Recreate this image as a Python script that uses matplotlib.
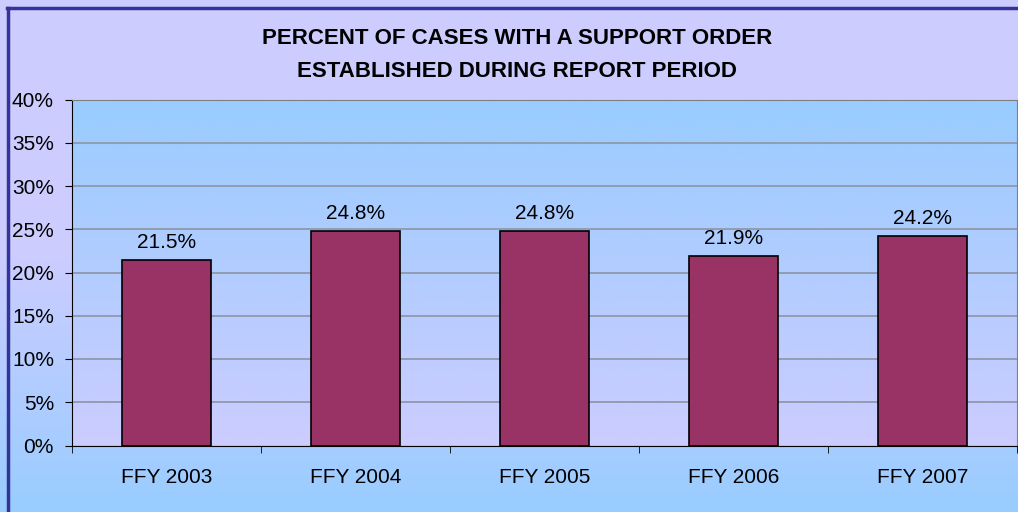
import matplotlib
matplotlib.use('Agg')
import matplotlib.pyplot as plt
from matplotlib import colors
from matplotlib.lines import Line2D
import numpy as np

plt.rcParams['font.family'] = ['Liberation Sans', 'DejaVu Sans']

years = ['FFY 2003', 'FFY 2004', 'FFY 2005', 'FFY 2006', 'FFY 2007']
percent = [21.5, 24.8, 24.8, 21.9, 24.2]
labels = ['21.5%', '24.8%', '24.8%', '21.9%', '24.2%']
yticks = [0, 5, 10, 15, 20, 25, 30, 35, 40]

LAVENDER = '#CCCCFF'
SKY = '#99CCFF'
BAR = '#993366'

fig = plt.figure(figsize=(10.18, 5.12), dpi=100)

# figure background: lavender at top fading to sky blue at bottom
bg = fig.add_axes([0, 0, 1, 1], zorder=-10)
grad = colors.LinearSegmentedColormap.from_list('bg', [LAVENDER, LAVENDER, SKY])
bg.imshow(np.linspace(0, 1, 256).reshape(-1, 1), cmap=grad, aspect='auto',
          extent=[0, 1, 0, 1])
bg.set_axis_off()
bg.add_line(Line2D([0.007, 1], [0.984, 0.984], color='#333399', lw=2.5,
                   transform=bg.transAxes))
bg.add_line(Line2D([0.008, 0.008], [0, 0.984], color='#333399', lw=2.5,
                   transform=bg.transAxes))

ax = fig.add_axes([72/1018, 1 - 445.5/512, 945/1018, 346/512])
ax.set_facecolor('none')
x = np.arange(len(years))
ax.set_xlim(-0.5, len(years) - 0.5)
ax.set_ylim(0, 40)

# plot area: sky blue at top fading to lavender at bottom
grad2 = colors.LinearSegmentedColormap.from_list('pa', [LAVENDER, SKY])
ax.imshow(np.linspace(0, 1, 256).reshape(-1, 1), cmap=grad2, aspect='auto',
          origin='lower', extent=[-0.5, len(years) - 0.5, 0, 40], zorder=0)

for t in yticks[1:]:
    ax.axhline(t, color='#8d94a3', lw=1.2, zorder=1)

ax.bar(x, percent, width=0.466, color=BAR, edgecolor='black', lw=1.2, zorder=2)
for xi, v, lab in zip(x, percent, labels):
    ax.text(xi, v + 0.9, lab, ha='center', va='bottom', fontsize=15)

ax.set_yticks(yticks)
ax.set_yticklabels(['%d%%' % t for t in yticks], fontsize=15)
ax.set_xticks(x)
ax.set_xticklabels(years, fontsize=15)
ax.tick_params(axis='x', which='major', length=0, pad=16)
ax.set_xticks(np.arange(len(years) + 1) - 0.5, minor=True)
ax.tick_params(axis='x', which='minor', length=5, direction='out')
ax.tick_params(axis='y', length=5, direction='out', pad=8)

for s in ['top', 'right']:
    ax.spines[s].set_color('#808080')
ax.spines['left'].set_color('black')
ax.spines['bottom'].set_color('black')

fig.text(0.508, 1 - 55/512,
         'PERCENT OF CASES WITH A SUPPORT ORDER\nESTABLISHED DURING REPORT PERIOD',
         ha='center', va='center', fontsize=16, fontweight='bold',
         linespacing=1.7)

fig.savefig('out.png', dpi=100)
